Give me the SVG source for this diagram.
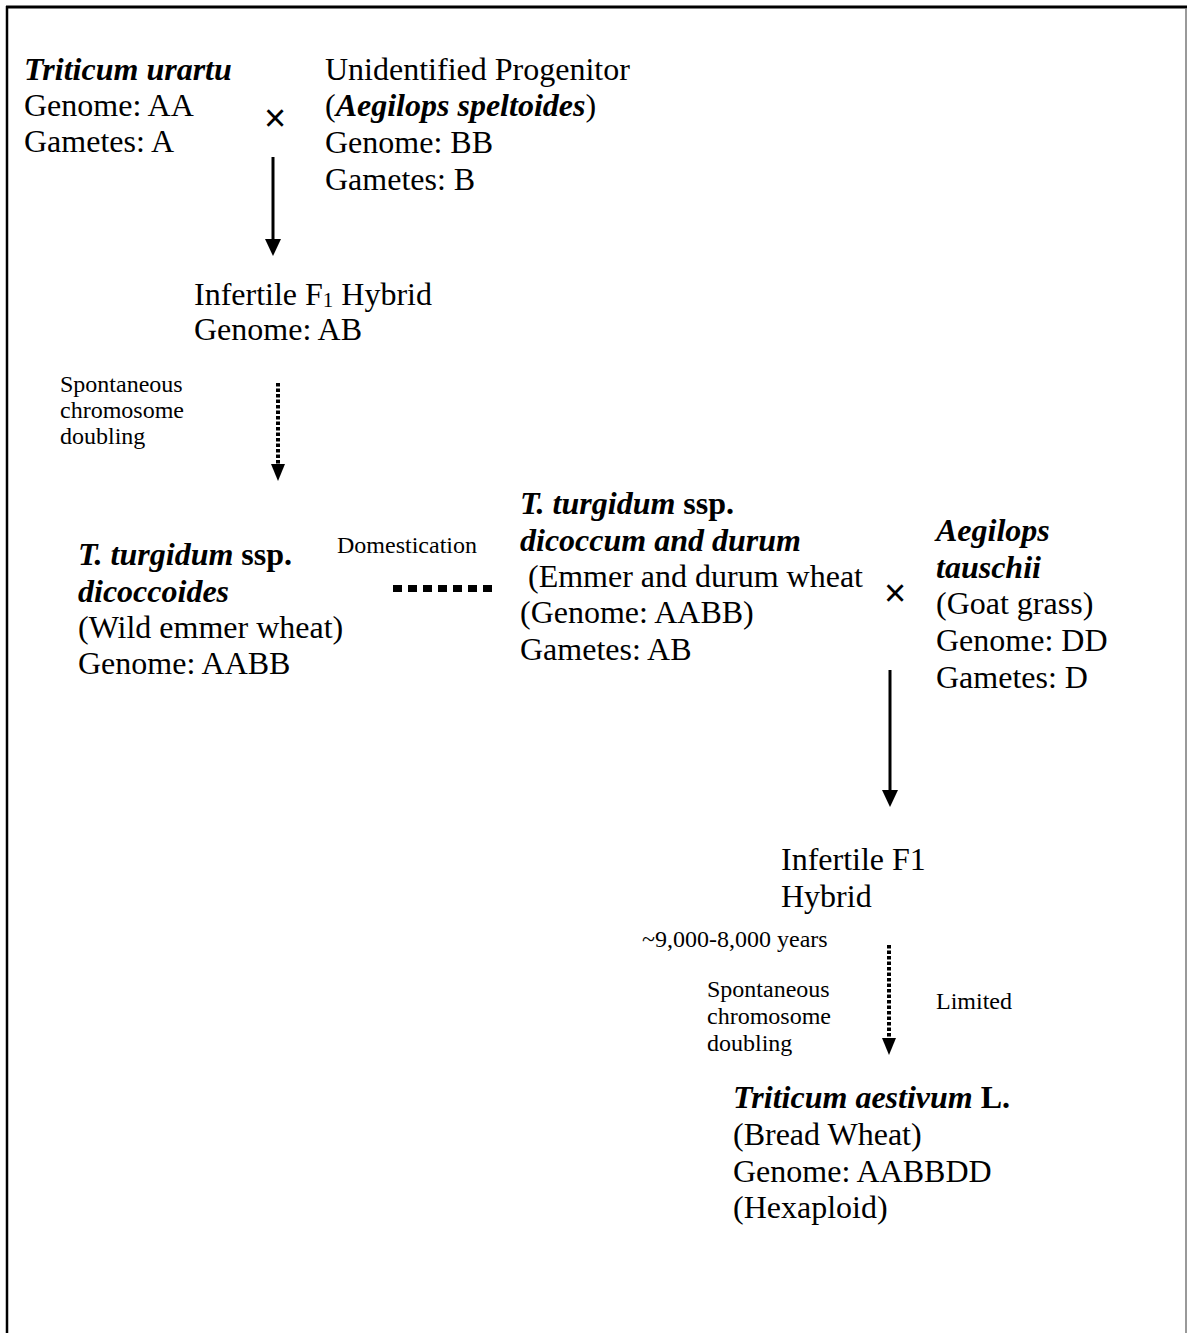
<svg xmlns="http://www.w3.org/2000/svg" width="1187" height="1333" viewBox="0 0 1187 1333">
<style>
text{font-family:"Liberation Serif","Times New Roman",serif;fill:#000}
.m{font-size:32px}
.s{font-size:24px}
.bi{font-weight:bold;font-style:italic}
.b{font-weight:bold}
.x{font-family:"Liberation Sans",Arial,sans-serif;font-size:38px}
.solid{stroke:#000;stroke-width:3;fill:none}
.dot{stroke:#000;stroke-width:4;stroke-dasharray:3.5 2;fill:none}
.sq{stroke:#000;stroke-width:7;stroke-dasharray:9 6;fill:none}
.head{fill:#000}
</style>
<rect x="0" y="0" width="1187" height="1333" fill="#fff"/>
<g id="frame">
<line x1="6" y1="7" x2="1187" y2="7" stroke="#000" stroke-width="3"/>
<line x1="7" y1="6" x2="7" y2="1333" stroke="#000" stroke-width="2.5"/>
<line x1="1186" y1="8" x2="1186" y2="1333" stroke="#777" stroke-width="1.5"/>
</g>
<g id="urartu">
<text class="m" x="24" y="80"><tspan class="bi">Triticum urartu</tspan></text>
<text class="m" x="24" y="116">Genome: AA</text>
<text class="m" x="24" y="152">Gametes: A</text>
</g>
<text id="cross1" class="x" x="275" y="131" text-anchor="middle">×</text>
<g id="speltoides">
<text class="m" x="325" y="80">Unidentified Progenitor</text>
<text class="m" x="325" y="116">(<tspan class="bi">Aegilops speltoides</tspan>)</text>
<text class="m" x="325" y="153">Genome: BB</text>
<text class="m" x="325" y="190">Gametes: B</text>
</g>
<g id="f1hybrid1">
<text class="m" x="194" y="305">Infertile F<tspan font-size="21" dy="2">1</tspan><tspan dy="-2"> Hybrid</tspan></text>
<text class="m" x="194" y="340">Genome: AB</text>
</g>
<g id="label-doubling1">
<text class="s" x="60" y="392">Spontaneous</text>
<text class="s" x="60" y="418">chromosome</text>
<text class="s" x="60" y="444">doubling</text>
</g>
<g id="dicoccoides">
<text class="m" x="78" y="565"><tspan class="bi">T. turgidum</tspan><tspan class="b"> ssp.</tspan></text>
<text class="m bi" x="78" y="602">dicoccoides</text>
<text class="m" x="78" y="638">(Wild emmer wheat)</text>
<text class="m" x="78" y="674">Genome: AABB</text>
</g>
<text id="label-domestication" class="s" x="337" y="553">Domestication</text>
<g id="durum">
<text class="m" x="520" y="514"><tspan class="bi">T. turgidum</tspan><tspan class="b"> ssp.</tspan></text>
<text class="m bi" x="520" y="551">dicoccum and durum</text>
<text class="m" x="528" y="587">(Emmer and durum wheat</text>
<text class="m" x="520" y="623">(Genome: AABB)</text>
<text class="m" x="520" y="660">Gametes: AB</text>
</g>
<text id="cross2" class="x" x="895" y="606" text-anchor="middle">×</text>
<g id="tauschii">
<text class="m bi" x="936" y="541">Aegilops</text>
<text class="m bi" x="936" y="578">tauschii</text>
<text class="m" x="936" y="614">(Goat grass)</text>
<text class="m" x="936" y="651">Genome: DD</text>
<text class="m" x="936" y="688">Gametes: D</text>
</g>
<g id="f1hybrid2">
<text class="m" x="781" y="870">Infertile F1</text>
<text class="m" x="781" y="907">Hybrid</text>
</g>
<text id="label-years" class="s" x="642" y="947">~9,000-8,000 years</text>
<g id="label-doubling2">
<text class="s" x="707" y="997">Spontaneous</text>
<text class="s" x="707" y="1024">chromosome</text>
<text class="s" x="707" y="1051">doubling</text>
</g>
<text id="label-limited" class="s" x="936" y="1009">Limited</text>
<g id="aestivum">
<text class="m" x="733" y="1108"><tspan class="bi">Triticum aestivum</tspan><tspan class="b"> L.</tspan></text>
<text class="m" x="733" y="1145">(Bread Wheat)</text>
<text class="m" x="733" y="1182">Genome: AABBDD</text>
<text class="m" x="733" y="1218">(Hexaploid)</text>
</g>
<g id="connectors">
<line class="solid" x1="273" y1="157" x2="273" y2="241"/>
<polygon class="head" points="265,239 281,239 273,256"/>
<line class="dot" x1="278" y1="383" x2="278" y2="464"/>
<polygon class="head" points="271,464 285,464 278,481"/>
<line class="sq" x1="393" y1="588.5" x2="492" y2="588.5"/>
<line class="solid" x1="890" y1="670" x2="890" y2="792"/>
<polygon class="head" points="882,790 898,790 890,807"/>
<line class="dot" x1="889" y1="945" x2="889" y2="1039"/>
<polygon class="head" points="882,1038 896,1038 889,1055"/>
</g>
</svg>
